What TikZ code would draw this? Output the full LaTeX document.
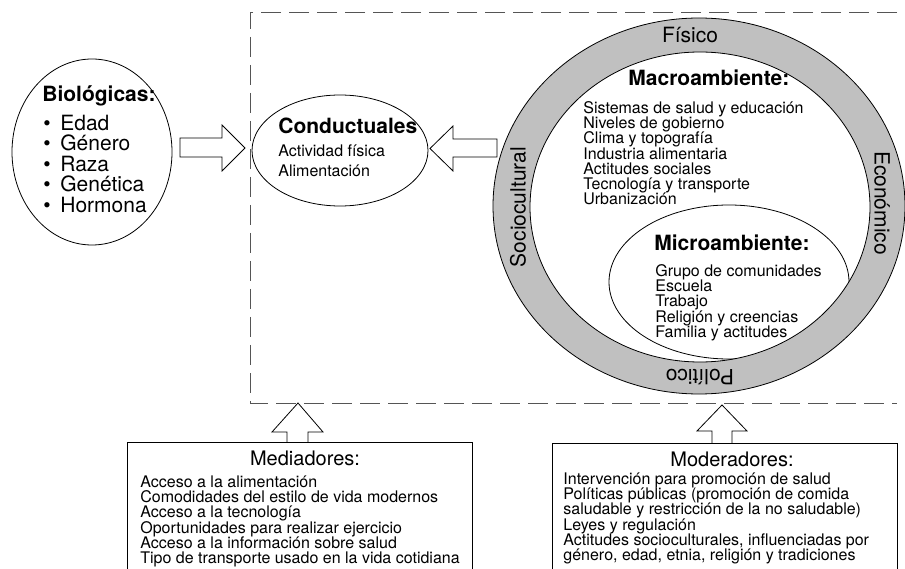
\documentclass[tikz,border=0pt]{standalone}
\usepackage{fontspec}
\setmainfont{TeX Gyre Heros}
\usetikzlibrary{shapes.geometric}
\newcommand\fsmall{\fontsize{16}{15.25}\selectfont\lineskiplimit=-30pt\relax}
\newcommand\fbio{\fontsize{21}{20.5}\selectfont\lineskiplimit=-30pt\relax}
\newcommand\fbig{\fontsize{21}{24}\selectfont\bfseries}
\newcommand\fring{\fontsize{21}{24}\selectfont}
\newcommand\fmid{\fontsize{20}{24}\selectfont}
\newcommand\sst{\rule{0pt}{14pt}}
\newcommand\bst{\rule{0pt}{19pt}}
\definecolor{ringgray}{HTML}{C0C0C0}
\definecolor{dashgray}{HTML}{555555}
\begin{document}
\begin{tikzpicture}[x=1pt,y=-1pt,line width=0.8pt,
  txt/.style={inner sep=0pt, anchor=north west, align=left},
  ttl/.style={inner sep=0pt, anchor=base west, font=\fbig},
  blockarrow/.style={draw, fill=white, line join=miter},
  oval/.style={draw, ellipse, inner sep=0pt},
  panel/.style={draw, rectangle, anchor=north west, inner sep=0pt}]
\useasboundingbox (0,0) rectangle (905,569);

% dashed frame
\coordinate (f1) at (897,12);
\coordinate (f2) at (250,12);
\coordinate (f3) at (250,403);
\coordinate (f4) at (897,403);
\draw[dashgray, dash pattern=on 20pt off 8pt] (f1) -- (f2) -- (f3) -- (f4);

% ring
\fill[ringgray, even odd rule] (699,206) ellipse [x radius=206pt, y radius=188pt]
  (700,207) ellipse [x radius=170pt, y radius=155pt];
\draw (699,206) ellipse [x radius=206pt, y radius=188pt];
\draw (700,207) ellipse [x radius=170pt, y radius=155pt];
\begin{scope}
  \clip (700,207) ellipse [x radius=170pt, y radius=155pt];
  \node[oval, minimum width=240pt, minimum height=154pt] (micro) at (729,282) {};
\end{scope}

\node[font=\fring, inner sep=0pt, anchor=base] (fis) at (690,43) {Físico};
\node[font=\fring, inner sep=0pt, rotate=90] (soc) at (518,207) {Sociocultural};
\node[font=\fring, inner sep=0pt, rotate=-90] (eco) at (882,203) {Económico};
\node[font=\fring, inner sep=0pt, rotate=180] (pol) at (700,377) {Político};

\node[ttl] (macroT) at (628,86) {Macroambiente:};
\node[txt, font=\fsmall] (macroL) at (583,99) {\sst Sistemas de salud y educación\\Niveles de gobierno\\Clima y topografía\\Industria alimentaria\\Actitudes sociales\\Tecnología y transporte\\Urbanización};

\node[ttl] (microT) at (654,251) {Microambiente:};
\node[txt, font=\fsmall] (microL) at (655,262) {\sst Grupo de comunidades\\Escuela\\Trabajo\\Religión y creencias\\Familia y actitudes};

% biologicas
\node[oval, minimum width=160pt, minimum height=186pt] (bio) at (92,152) {};
\node[ttl] (bioT) at (42,102) {Biológicas:};
\node[txt, font=\fbio] (bioL) at (43,111) {\bst\makebox[17pt][l]{\textbullet}Edad\\\makebox[17pt][l]{\textbullet}Género\\\makebox[17pt][l]{\textbullet}Raza\\\makebox[17pt][l]{\textbullet}Genética\\\makebox[17pt][l]{\textbullet}Hormona};

% conductuales
\node[oval, minimum width=176pt, minimum height=111pt] (con) at (340,150.5) {};
\node[ttl] (conT) at (278,134) {Conductuales};
\node[txt, font=\fontsize{16}{20}\selectfont] (conL) at (278,142) {\sst Actividad física\\Alimentación};

% block arrows
\draw[blockarrow] (180,138) -- (222,138) -- (222,125) -- (245,148) -- (222,171) -- (222,157) -- (180,157) -- cycle;
\draw[blockarrow] (497,139) -- (453,139) -- (453,126) -- (430,148.5) -- (453,171) -- (453,157) -- (497,157) -- cycle;
\draw[blockarrow] (287,442) -- (287,432) -- (272,432) -- (298,403) -- (323,432) -- (308,432) -- (308,442);
\draw[blockarrow] (712,443) -- (712,431) -- (697,431) -- (722,405) -- (747,431) -- (732,431) -- (732,443);

% panels
\node[panel, minimum width=345pt, minimum height=135pt] (med) at (127,442) {};
\node[panel, minimum width=345pt, minimum height=135pt] (mod) at (552,443) {};
\node[font=\fmid, inner sep=0pt, anchor=base] (medT) at (305,465) {Mediadores:};
\node[txt, font=\fsmall] (medL) at (140,473) {\sst Acceso a la alimentación\\Comodidades del estilo de vida modernos\\Acceso a la tecnología\\Oportunidades para realizar ejercicio\\Acceso a la información sobre salud\\Tipo de transporte usado en la vida cotidiana};
\node[font=\fmid, inner sep=0pt, anchor=base] (modT) at (732,466) {Moderadores:};
\node[txt, font=\fsmall] (modL) at (563,470) {\sst Intervención para promoción de salud\\Políticas públicas (promoción de comida\\saludable y restricción de la no saludable)\\Leyes y regulación\\Actitudes socioculturales, influenciadas por\\género, edad, etnia, religión y tradiciones};
\end{tikzpicture}
\end{document}
